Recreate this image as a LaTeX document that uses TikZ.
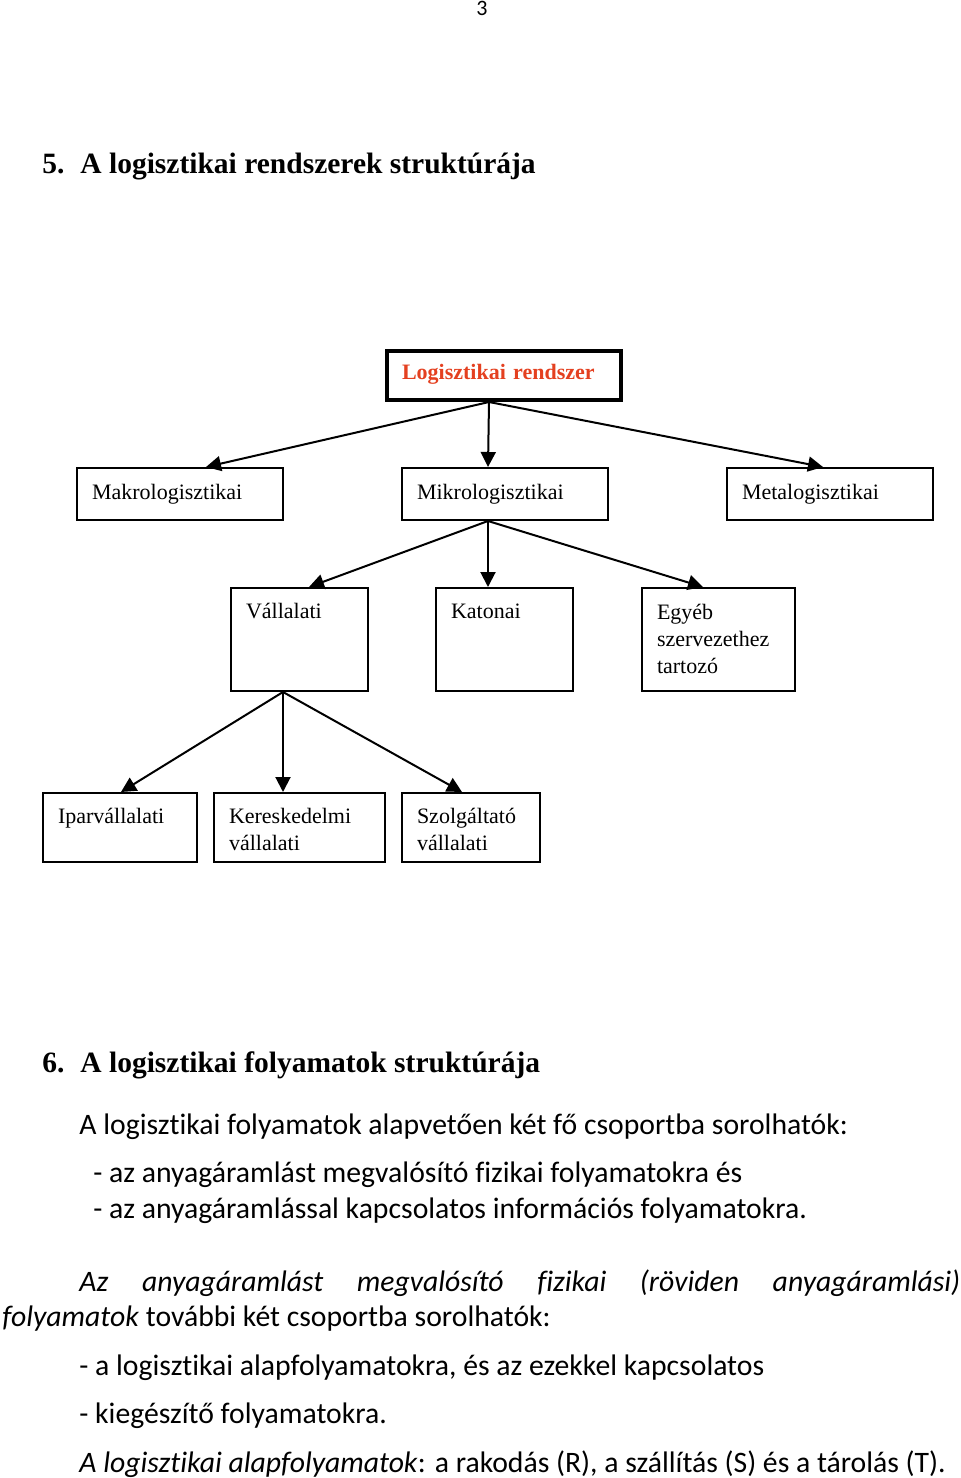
\documentclass[tikz,border=0pt]{standalone}
\usepackage{fontspec}
\setmainfont{Liberation Serif}
\newfontfamily\bodyfont[Ligatures={NoCommon}]{Carlito}
\usepackage{xcolor}
\usetikzlibrary{arrows.meta,positioning}

\definecolor{rootred}{RGB}{228,64,32}

\begin{document}
\begin{tikzpicture}[
    x=0.5pt, y=-0.5pt,
    box/.style={draw, rectangle, line width=1pt, anchor=north west, inner xsep=7.5pt, inner ysep=0pt, align=left, font=\fontsize{11}{13.5}\selectfont},
    rootbox/.style={box, line width=2pt, text=rootred, font=\fontsize{11}{13.5}\selectfont\bfseries},
    title/.style={anchor=base west, inner sep=0pt, font=\fontsize{14.75}{17}\selectfont\bfseries},
    body/.style={anchor=base west, inner sep=0pt, font=\bodyfont\fontsize{14.85}{18}\selectfont},
    link/.style={line width=1pt, -{Triangle[length=7.5pt,width=7.5pt]}}
]
    \useasboundingbox (0,0) rectangle (960,1478);

    % Page number
    \node[body, anchor=base, font=\bodyfont\fontsize{11}{13}\selectfont] (page) at (482,15) {3};

    % Section 5
    \node[title] (title5) at (42,173) {\makebox[19pt][l]{5.}A logisztikai rendszerek struktúrája};

    % Root
    \node[rootbox, text width=102pt, text height=14pt, text depth=10.5pt] (root) at (385,349) {Logisztikai rendszer};

    % First level
    \node[box, text width=88pt, text height=15.5pt, text depth=10.5pt] (makro) at (76,467) {Makrologisztikai};
    \node[box, text width=88pt, text height=15.5pt, text depth=10.5pt] (mikro) at (401,467) {Mikrologisztikai};
    \node[box, text width=88pt, text height=15.5pt, text depth=10.5pt] (meta) at (726,467) {Metalogisztikai};

    % Second level
    \node[box, text width=53.5pt, text height=15pt, text depth=36.5pt] (vall) at (230,587) {Vállalati};
    \node[box, text width=53.5pt, text height=15pt, text depth=36.5pt] (katonai) at (435,587) {Katonai};
    \node[box, text width=61.5pt, text height=15.5pt, text depth=36pt] (egyeb) at (641,587) {Egyéb\\szervezethez\\tartozó};

    % Third level
    \node[box, text width=62pt, text height=15pt, text depth=19.5pt] (ipar) at (42,792) {Iparvállalati};
    \node[box, text width=70.5pt, text height=15pt, text depth=19.5pt] (keresk) at (213,792) {Kereskedelmi\\vállalati};
    \node[box, text width=54pt, text height=15pt, text depth=19.5pt] (szolg) at (401,792) {Szolgáltató\\vállalati};

    % Arrows
    \draw[link] ([xshift=-7.5pt]root.south) -- ([xshift=13pt]makro.north);
    \draw[link] ([xshift=-7.5pt]root.south) -- ([xshift=-8.5pt]mikro.north);
    \draw[link] ([xshift=-7.5pt]root.south) -- ([xshift=-3.5pt]meta.north);

    \draw[link] ([xshift=-8.5pt]mikro.south) -- ([xshift=4.75pt]vall.north);
    \draw[link] ([xshift=-8.5pt]mikro.south) -- ([xshift=-8.25pt]katonai.north);
    \draw[link] ([xshift=-8.5pt]mikro.south) -- ([xshift=-7.75pt]egyeb.north);

    \draw[link] ([xshift=-8.25pt]vall.south) -- ([xshift=0.5pt]ipar.north);
    \draw[link] ([xshift=-8.25pt]vall.south) -- ([xshift=-8.25pt]keresk.north);
    \draw[link] ([xshift=-8.25pt]vall.south) -- ([xshift=-4.5pt]szolg.north);

    % Section 6
    \node[title] (title6) at (42,1072) {\makebox[19pt][l]{6.}A logisztikai folyamatok struktúrája};
    \node[body] (intro) at (79,1134) {A logisztikai folyamatok alapvetően két fő csoportba sorolhatók:};
    \node[body] (fizikai) at (93,1182) {- az anyagáramlást megvalósító fizikai folyamatokra és};
    \node[body] (info) at (93,1218) {- az anyagáramlással kapcsolatos információs folyamatokra.};
    \node[body] (para1) at (79,1291) {\makebox[440.5pt][s]{\itshape Az anyagáramlást megvalósító fizikai (röviden anyagáramlási)}};
    \node[body] (para2) at (2,1326) {\textit{folyamatok} további két csoportba sorolhatók:};
    \node[body] (alap) at (79,1375) {- a logisztikai alapfolyamatokra, és az ezekkel kapcsolatos};
    \node[body] (kieg) at (79,1423) {- kiegészítő folyamatokra.};
    \node[body] (rst) at (79,1472) {\textit{A logisztikai alapfolyamatok}: a rakodás (R), a szállítás (S) és a tárolás (T).};
\end{tikzpicture}
\end{document}
